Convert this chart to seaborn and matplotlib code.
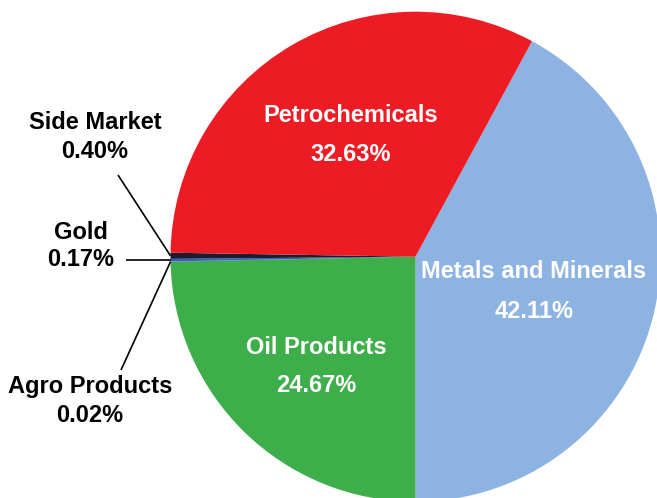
import numpy as np
import matplotlib
matplotlib.use("Agg")
import matplotlib.pyplot as plt
import seaborn as sns

# Trading volume share by segment
categories = ["Metals and Minerals", "Oil Products", "Agro Products",
              "Gold", "Side Market", "Petrochemicals"]
shares = [42.11, 24.67, 0.02, 0.17, 0.40, 32.63]
colors = ["#8DB3E2", "#3DAE49", "#6A3D9A", "#2E62C9", "#1C1C2E", "#ED1C24"]

sns.set_theme(style="white")
plt.rcParams["font.family"] = ["Liberation Sans", "DejaVu Sans"]

W, H = 657, 498
fig = plt.figure(figsize=(W / 100, H / 100), dpi=100)
ax = fig.add_axes([0, 0, 1, 1])


def px(x, y):
    """Convert top-left pixel position to data coordinates."""
    return x, H - y


cx, cy = px(415.5, 256.7)
R = 245
wedges, _ = ax.pie(shares, colors=colors, startangle=61.6, counterclock=False,
                   radius=R, center=(cx, cy), frame=True,
                   wedgeprops=dict(linewidth=0))
ax.set_xlim(0, W)
ax.set_ylim(0, H)
ax.set_aspect("equal")
ax.axis("off")

fs = 17
# Labels inside the large slices
inside = {
    "Petrochemicals": (351, 115, 154),
    "Metals and Minerals": (534, 272, 311),
    "Oil Products": (316, 348, 386),
}
for name, (x, y1, y2) in inside.items():
    v = shares[categories.index(name)]
    ax.text(*px(x, y1), name, color="white", fontsize=fs, fontweight="bold",
            ha="center", va="center")
    ax.text(*px(x, y2), f"{v:.2f}%", color="white", fontsize=fs,
            fontweight="bold", ha="center", va="center")

# Labels outside the thin slices, with leader lines to the rim
outside = {
    "Side Market": ((95, 122), (95, 151), (118, 175)),
    "Gold": ((81, 232), (81, 260), (126, None)),
    "Agro Products": ((90, 387), (90, 416), (121, 370)),
}
for name, (p1, p2, lstart) in outside.items():
    i = categories.index(name)
    ax.text(*px(*p1), name, color="black", fontsize=fs, fontweight="bold",
            ha="center", va="center")
    ax.text(*px(*p2), f"{shares[i]:.2f}%", color="black", fontsize=fs,
            fontweight="bold", ha="center", va="center")
    w = wedges[i]
    mid = np.deg2rad((w.theta1 + w.theta2) / 2)
    ex, ey = cx + R * np.cos(mid), cy + R * np.sin(mid)
    if lstart[1] is None:
        # horizontal leader
        sx, sy = lstart[0], ey
    else:
        sx, sy = px(*lstart)
    ax.plot([sx, ex], [sy, ey], color="black", lw=1.2, solid_capstyle="butt")

fig.savefig("out.png", dpi=100)
